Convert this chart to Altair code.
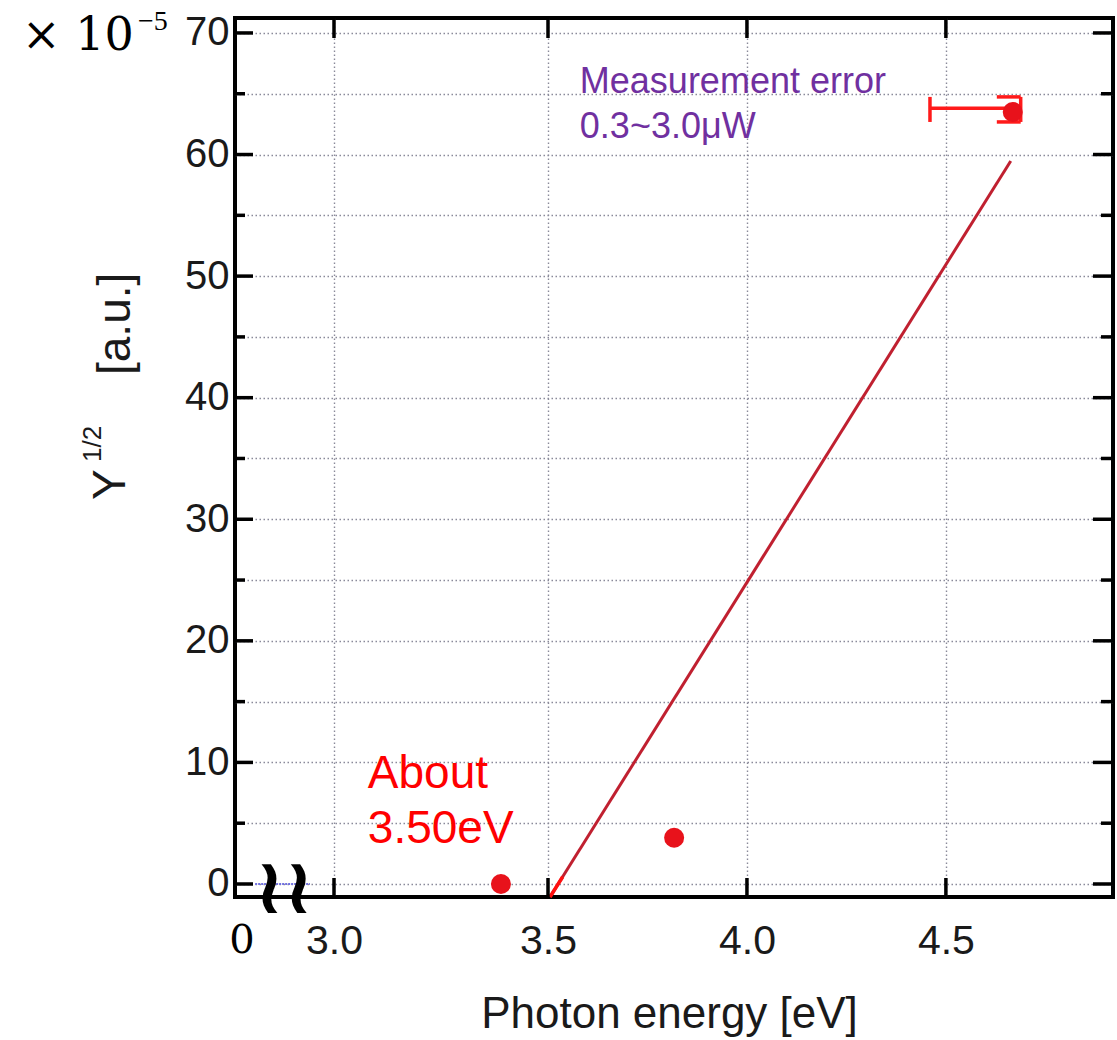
import altair as alt
import pandas as pd

# ---------------- data ----------------
pt_x = [3.39, 3.817, 4.668]
pt_y = [0.0, 3.8, 63.5]

fit_x = [3.505, 4.663]
fit_y = [-1.07, 59.47]
tip_x = [3.505, 3.537]
tip_y = [-1.07, 0.60]

# error bar on last point
errh_x = [4.46]
errh_x2 = [4.668]
errh_y = [63.8]
err_lo = [62.68]
err_hi = [64.74]
errv_x = [4.688]
errv_cap_x = [4.628]

# axes
y_grid = [0, 5, 10, 15, 20, 25, 30, 35, 40, 45, 50, 55, 60, 65, 70]
y_major = [0, 10, 20, 30, 40, 50, 60, 70]
y_minor = [5, 15, 25, 35, 45, 55, 65]
x_ticks = [3.0, 3.5, 4.0, 4.5]

# annotations
meas_text = ["Measurement error", "0.3~3.0μW"]
meas_x = [3.58, 3.58]
meas_y = [65.07, 61.36]
about_text = ["About", "3.50eV"]
about_x = [3.079, 3.079]
about_y = [7.90, 3.37]

break_x = [2.816]
break_x2 = [2.944]
break_y = [0]

X_DOMAIN = [2.769, 3.0, 3.5, 4.92]
X_RANGE = [0, 99, 313, 878]
Y_DOMAIN = [-1.07, 71.23]

W, H = 878, 879
SANS = "Liberation Sans"
INK = "#1a1a1a"

XS = alt.Scale(domain=X_DOMAIN, range=X_RANGE, zero=False, nice=False)
YS = alt.Scale(domain=Y_DOMAIN, zero=False, nice=False)

GRID = dict(gridColor="#8a8a9a", gridDash=[1.5, 2.5], gridWidth=1.4)
xaxis = alt.Axis(values=x_ticks, format=".1f", grid=True, ticks=False, tickSize=0,
                 domain=False, **GRID,
                 labelFont=SANS, labelFontSize=41, labelColor=INK, labelPadding=24,
                 title="Photon energy [eV]", titleFont=SANS, titleFontSize=44,
                 titleFontWeight="normal", titleColor=INK, titleX=434, titleY=130,
                 titleAnchor="middle", titleAlign="center", titleBaseline="alphabetic")
yaxis = alt.Axis(values=y_grid, grid=True, ticks=False, tickSize=0, domain=False,
                 **GRID,
                 labelExpr="datum.value % 10 == 0 ? datum.label : ''",
                 labelFont=SANS, labelFontSize=40, labelColor=INK, labelPadding=6,
                 title=None)


def X(f):
    return alt.X(f, scale=XS, axis=xaxis)


def Y(f):
    return alt.Y(f, scale=YS, axis=yaxis)


fit_df = pd.DataFrame({"x": fit_x, "y": fit_y})
tip_df = pd.DataFrame({"x": tip_x, "y": tip_y})
pts_df = pd.DataFrame({"x": pt_x, "y": pt_y})

err_rows = [
    {"x": errh_x[0], "x2": errh_x2[0], "y": errh_y[0], "y2": errh_y[0]},
    {"x": errh_x[0], "x2": errh_x[0], "y": err_lo[0], "y2": err_hi[0]},
    {"x": errv_x[0], "x2": errv_x[0], "y": err_lo[0], "y2": err_hi[0]},
    {"x": errv_cap_x[0], "x2": errv_x[0], "y": err_hi[0], "y2": err_hi[0]},
    {"x": errv_cap_x[0], "x2": errv_x[0], "y": err_lo[0], "y2": err_lo[0]},
]
err_df = pd.DataFrame(err_rows)

fit = alt.Chart(fit_df).mark_line(color="#c02030", strokeWidth=3).encode(
    x=X("x:Q"), y=Y("y:Q"))
tip = alt.Chart(tip_df).mark_line(color="#ff1010", strokeWidth=3.5).encode(
    x=X("x:Q"), y=Y("y:Q"))
err = alt.Chart(err_df).mark_rule(color="#ff1a1a", strokeWidth=3.5).encode(
    x=X("x:Q"), x2="x2:Q", y=Y("y:Q"), y2="y2:Q")
pts = alt.Chart(pts_df).mark_circle(size=400, color="#e8121b", opacity=1).encode(
    x=X("x:Q"), y=Y("y:Q"))

blue = alt.Chart(pd.DataFrame({"x": break_x, "x2": break_x2, "y": break_y})).mark_rule(
    color="#7070e0", strokeWidth=2, strokeDash=[2, 1]).encode(
    x=X("x:Q"), x2="x2:Q", y=Y("y:Q"))

meas = alt.Chart(pd.DataFrame({"t": meas_text, "x": meas_x, "y": meas_y})).mark_text(
    font=SANS, fontSize=36, color="#7030a0", align="left", baseline="alphabetic").encode(
    x=X("x:Q"), y=Y("y:Q"), text="t:N")
about = alt.Chart(pd.DataFrame({"t": about_text, "x": about_x, "y": about_y})).mark_text(
    font=SANS, fontSize=46, color="#ff0000", align="left", baseline="alphabetic").encode(
    x=X("x:Q"), y=Y("y:Q"), text="t:N")

# inward ticks on all four sides
ymaj_df = pd.DataFrame({"v": y_major})
ymin_df = pd.DataFrame({"v": y_minor})
xt_df = pd.DataFrame({"v": x_ticks})
TK = dict(color="black", strokeWidth=3.5)
ticks = [
    alt.Chart(ymaj_df).mark_rule(**TK).encode(y=Y("v:Q"), x=alt.value(0), x2=alt.value(18)),
    alt.Chart(ymin_df).mark_rule(**TK).encode(y=Y("v:Q"), x=alt.value(0), x2=alt.value(10)),
    alt.Chart(ymaj_df).mark_rule(**TK).encode(y=Y("v:Q"), x=alt.value(W - 20), x2=alt.value(W)),
    alt.Chart(ymin_df).mark_rule(**TK).encode(y=Y("v:Q"), x=alt.value(W - 12), x2=alt.value(W)),
    alt.Chart(xt_df).mark_rule(**TK).encode(x=X("v:Q"), y=alt.value(0), y2=alt.value(20)),
    alt.Chart(xt_df).mark_rule(**TK).encode(x=X("v:Q"), y=alt.value(H - 19), y2=alt.value(H)),
]

one = pd.DataFrame({"a": [0]})


def label(text, px, py, size, font=SANS, color=INK, angle=None, align="left",
          baseline="alphabetic", weight="normal"):
    kw = dict(text=text, font=font, fontSize=size, color=color, align=align,
              baseline=baseline, fontWeight=weight)
    if angle is not None:
        kw["angle"] = angle
    return alt.Chart(one).mark_text(**kw).encode(x=alt.value(px), y=alt.value(py))


extras = [
    label("× 10", -213, 32, 46, font="DejaVu Serif", color="black"),
    label("−5", -97, 12, 28, font="Liberation Serif", color="black"),
    label("Y", -110, 482, 46, angle=270),
    label("1/2", -134, 444, 26, angle=270),
    label("[a.u.]", -105, 357, 46, angle=270),
    label("0", 7, 935, 40, font="DejaVu Serif", color="black", align="center"),
    label("≀≀", 49, 872, 78, font="DejaVu Sans", color="black", align="center",
          baseline="middle", weight="bold"),
]

chart = alt.layer(fit, blue, tip, err, pts, meas, about, *ticks, *extras).properties(
    width=W, height=H,
    autosize=alt.AutoSizeParams(type="none"),
    padding={"left": 235, "top": 18, "right": 4, "bottom": 143},
    background="white",
).configure_view(stroke="black", strokeWidth=4)

chart.save("out.html", embed_options={"renderer": "svg", "actions": False})
